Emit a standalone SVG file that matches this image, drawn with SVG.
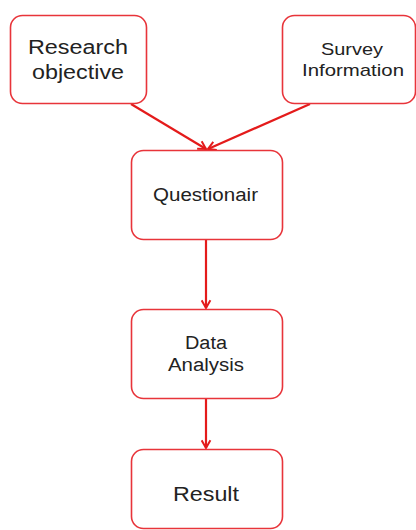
<svg xmlns="http://www.w3.org/2000/svg" width="416" height="530" viewBox="0 0 416 530">
<style>
.box{fill:#fff;stroke:#e8343a;stroke-width:1.6}
.t{font-family:"Liberation Sans",Arial,sans-serif;fill:#222;text-anchor:middle}
.c{stroke:#e41b1b;stroke-width:2.2;fill:none}
</style>
<defs>
<marker id="ah" viewBox="0 0 10 10" refX="9" refY="5" markerWidth="11" markerHeight="11" orient="auto" markerUnits="userSpaceOnUse">
<path d="M2,1 L9,5 L2,9" fill="none" stroke="#e41b1b" stroke-width="1.8"/>
</marker>
</defs>
<rect width="416" height="530" fill="#fff"/>
<g id="connectors">
<path class="c" d="M131,104 L206,149" marker-end="url(#ah)"/>
<path class="c" d="M310,104 L208,149" marker-end="url(#ah)"/>
<path class="c" d="M206,239 L206,308" marker-end="url(#ah)"/>
<path class="c" d="M206,398 L206,448" marker-end="url(#ah)"/>
</g>
<g id="research">
<rect class="box" x="10.5" y="15.5" width="136" height="88" rx="12"/>
<text class="t" x="78" y="54" font-size="20" textLength="100" lengthAdjust="spacingAndGlyphs">Research</text>
<text class="t" x="78" y="79" font-size="20" textLength="92" lengthAdjust="spacingAndGlyphs">objective</text>
</g>
<g id="survey">
<rect class="box" x="282.5" y="15.5" width="133" height="88" rx="12"/>
<text class="t" x="352" y="55" font-size="17" textLength="62" lengthAdjust="spacingAndGlyphs">Survey</text>
<text class="t" x="353" y="76" font-size="17" textLength="102" lengthAdjust="spacingAndGlyphs">Information</text>
</g>
<g id="questionair">
<rect class="box" x="131.5" y="150.5" width="151" height="89" rx="12"/>
<text class="t" x="205.5" y="201" font-size="18" textLength="105" lengthAdjust="spacingAndGlyphs">Questionair</text>
</g>
<g id="analysis">
<rect class="box" x="131.5" y="309.5" width="151" height="89" rx="12"/>
<text class="t" x="206" y="349" font-size="18" textLength="42" lengthAdjust="spacingAndGlyphs">Data</text>
<text class="t" x="206" y="371" font-size="18" textLength="76" lengthAdjust="spacingAndGlyphs">Analysis</text>
</g>
<g id="result">
<rect class="box" x="131.5" y="449.5" width="151" height="79" rx="12"/>
<text class="t" x="206" y="501" font-size="19.5" textLength="66" lengthAdjust="spacingAndGlyphs">Result</text>
</g>
</svg>
